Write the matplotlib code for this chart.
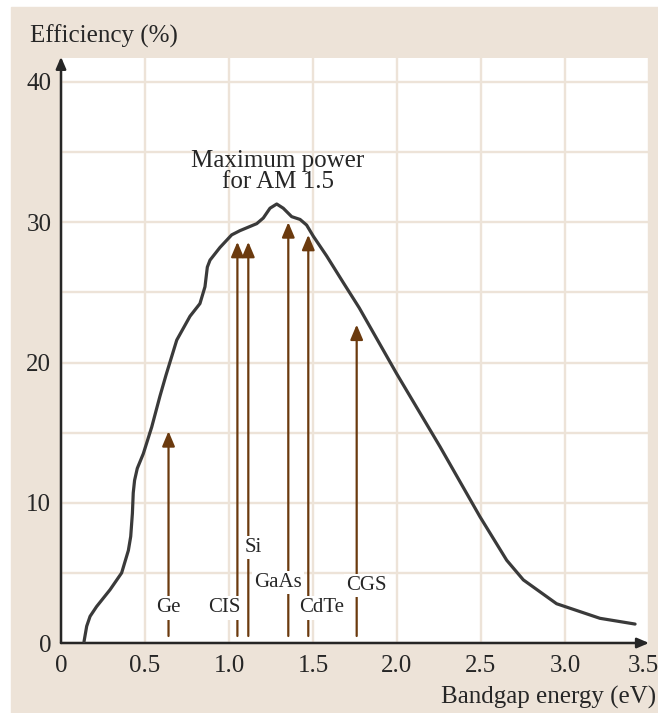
import numpy as np
import matplotlib
matplotlib.use("Agg")
import matplotlib.pyplot as plt
from matplotlib.patches import Rectangle
from matplotlib.transforms import ScaledTranslation

# efficiency limit vs bandgap
bandgap = [0.137, 0.153, 0.173, 0.212, 0.292, 0.361, 0.401, 0.415, 0.425, 0.430,
           0.438, 0.454, 0.490, 0.540, 0.589, 0.625, 0.689, 0.768, 0.827, 0.857,
           0.871, 0.887, 0.946, 1.016, 1.065, 1.165, 1.204, 1.244, 1.284, 1.323,
           1.373, 1.423, 1.462, 1.502, 1.581, 1.680, 1.775, 1.998, 2.256, 2.494,
           2.653, 2.752, 2.950, 3.208, 3.417]
efficiency = [0.1, 1.2, 1.9, 2.6, 3.8, 5.0, 6.6, 7.6, 9.25, 10.7,
              11.6, 12.45, 13.5, 15.4, 17.6, 19.1, 21.6, 23.3, 24.2, 25.4,
              26.8, 27.3, 28.2, 29.1, 29.4, 29.9, 30.3, 31.0, 31.3, 31.0,
              30.4, 30.2, 29.8, 29.0, 27.6, 25.7, 23.9, 19.2, 14.0, 9.0,
              5.9, 4.5, 2.8, 1.76, 1.35]

# materials: bandgap, arrow tip, label position
materials = ["Ge", "CIS", "Si", "GaAs", "CdTe", "CGS"]
mat_gap = [0.64, 1.05, 1.115, 1.353, 1.472, 1.76]
mat_eff = [15.1, 28.6, 28.6, 30.0, 29.1, 22.7]
label_x = [0.64, 0.975, 1.143, 1.29, 1.55, 1.82]
label_y = [2.5, 2.5, 6.8, 4.3, 2.5, 4.1]

xticks = [0, 0.5, 1.0, 1.5, 2.0, 2.5, 3.0, 3.5]
xticklabels = ["0", "0.5", "1.0", "1.5", "2.0", "2.5", "3.0", "3.5"]
yticks = [0, 10, 20, 30, 40]

beige = "#ede3d8"
brown = "#6b3a0e"
ink = "#262626"
plt.rcParams["font.family"] = ["Liberation Serif", "DejaVu Serif"]

W, H = 658, 713
fig = plt.figure(figsize=(W / 100, H / 100), dpi=100, facecolor="white")
fig.patches.append(Rectangle((11 / W, 0), 1, 1 - 7 / H, transform=fig.transFigure,
                             color=beige, zorder=-5))

ax = fig.add_axes([61 / W, 1 - 643 / H, 588 / W, 585 / H])
ax.set_facecolor("white")
ax.set_xlim(0, 3.5)
ax.set_ylim(0, 585 / 14.025)

ax.set_xticks(xticks)
ax.set_xticklabels(xticklabels)
ax.set_yticks(yticks)
ax.set_yticks([5, 15, 25, 35], minor=True)
ax.tick_params(which="both", length=0, labelsize=18, colors=ink)
ax.tick_params(axis="x", pad=9)
ax.tick_params(axis="y", pad=7)
ax.grid(True, which="both", color=beige, lw=1.7)
ax.set_axisbelow(True)
for s in ax.spines.values():
    s.set_visible(False)
# last x label sits at the right edge, nudge it in a little
last = ax.get_xticklabels()[-1]
last.set_transform(last.get_transform() + ScaledTranslation(-4 / 72, 0, fig.dpi_scale_trans))

# axes with arrow heads
arrow = dict(arrowstyle="-|>,head_length=0.7,head_width=0.3", color=ink, lw=1.8,
             shrinkA=0, shrinkB=0)
ax.annotate("", xy=(0, 1.002), xytext=(0, 0), xycoords="axes fraction", arrowprops=arrow,
            annotation_clip=False)
ax.annotate("", xy=(1.0, 0), xytext=(0, 0), xycoords="axes fraction", arrowprops=arrow,
            annotation_clip=False)

ax.plot(bandgap, efficiency, color="#3a3a3a", lw=2.3, zorder=3,
        solid_capstyle="round", solid_joinstyle="round")

for name, gx, gy, lx, ly in zip(materials, mat_gap, mat_eff, label_x, label_y):
    ax.annotate("", xy=(gx, gy), xytext=(gx, 0.5),
                arrowprops=dict(arrowstyle="-|>,head_length=0.9,head_width=0.38",
                                color=brown, lw=1.6, shrinkA=0, shrinkB=0), zorder=4)
    ax.text(lx, ly, name, ha="center", va="center", fontsize=15, color=ink, zorder=5,
            bbox=dict(facecolor="white", edgecolor="none", pad=1.5))

ax.text(1.29, 33.6, "Maximum power\nfor AM 1.5", ha="center", va="center",
        fontsize=18, color=ink, linespacing=0.95)

fig.text(30 / W, 1 - 36 / H, "Efficiency (%)", ha="left", va="center", fontsize=18, color=ink)
fig.text(656 / W, 1 - 697 / H, "Bandgap energy (eV)", ha="right", va="center",
         fontsize=18, color=ink)

fig.savefig("out.png", dpi=100, facecolor="white")
